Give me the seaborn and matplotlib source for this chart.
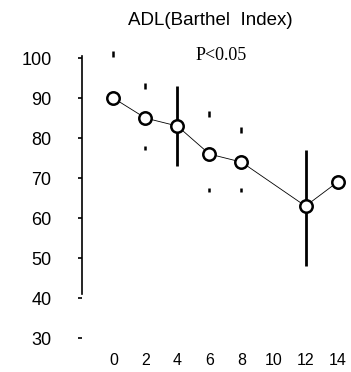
import matplotlib
matplotlib.use("Agg")
import matplotlib.pyplot as plt
import seaborn as sns
import pandas as pd
import numpy as np

# data
weeks = [0, 2, 4, 6, 8, 12, 14]
adl_mean = [90, 85, 83, 76, 74, 63, 69]
err_high = [101, 93, 93, 86, 82, 77, np.nan]
err_low = [np.nan, 77.5, 73, 67, 67, 48, np.nan]
full_bar = [False, False, True, False, False, True, False]
x_ticks = [0, 2, 4, 6, 8, 10, 12, 14]
y_ticks = [30, 40, 50, 60, 70, 80, 90, 100]

df = pd.DataFrame({"week": weeks, "adl": adl_mean,
                   "hi": err_high, "lo": err_low, "full": full_bar})

sns.set_style("white")
plt.rcParams['font.family'] = ['Liberation Sans', 'DejaVu Sans']

fig = plt.figure(figsize=(3.51, 3.72), dpi=100)
ax = fig.add_axes([0.234, 0.091, 0.755, 0.753])

# connecting line
sns.lineplot(data=df, x="week", y="adl", ax=ax, color="black", lw=0.6,
             zorder=2, legend=False)

# error bars
full = df[df["full"]]
ax.vlines(full["week"], full["lo"], full["hi"], color="black", lw=2.0,
          zorder=3, clip_on=False)
part = df[~df["full"]]
ax.plot(part["week"], part["hi"], ls="none", marker="|", ms=4, mew=1.8,
        color="black", clip_on=False, zorder=3)
ax.plot(part["week"], part["lo"], ls="none", marker="|", ms=3, mew=1.8,
        color="black", clip_on=False, zorder=3)

# open circles
sns.scatterplot(data=df, x="week", y="adl", ax=ax, marker="o", s=80,
                facecolor="white", edgecolor="black", linewidth=1.8,
                zorder=4, legend=False)

ax.set_xlim(-1.95, 14.6)
ax.set_ylim(30, 100)
ax.set_xticks(x_ticks)
ax.set_yticks(y_ticks)
ax.set_xticklabels([str(t) for t in x_ticks], fontsize=11.5, color="black")
ax.set_yticklabels([str(t) for t in y_ticks], fontsize=13, color="black")
ax.tick_params(axis="y", length=3, width=1.2, pad=19, direction="out",
               left=True, color="black")
ax.tick_params(axis="x", length=0, pad=11)
ax.set_xlabel("")
ax.set_ylabel("")

for s in ["top", "right", "bottom"]:
    ax.spines[s].set_visible(False)
ax.spines["left"].set_bounds(41, 100.5)
ax.spines["left"].set_linewidth(1.2)
ax.spines["left"].set_color("black")

fig.text(0.598, 0.946, "ADL(Barthel  Index)", ha="center", va="center",
         fontsize=13.5, color="black")
ax.text(6.7, 100.7, "P<0.05", ha="center", va="center", fontsize=13,
        family="Liberation Serif", color="black")

fig.savefig("out.png", dpi=100)
